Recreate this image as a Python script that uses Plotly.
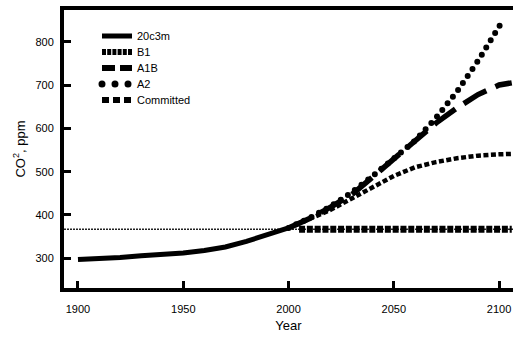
import plotly.graph_objects as go

# ---- data ----
years_hist = [1900, 1910, 1920, 1930, 1940, 1950, 1960, 1970, 1980, 1990, 2000]
co2_20c3m = [297, 299, 302, 306, 309, 312, 318, 326, 339, 354, 370]

years_scen = [2000, 2010, 2020, 2030, 2040, 2050, 2060, 2070, 2080, 2090, 2100, 2106]
co2_b1 = [370, 390, 412, 438, 465, 490, 510, 522, 531, 537, 540, 541]
co2_a1b = [370, 392, 418, 447, 488, 530, 572, 612, 647, 678, 700, 705]

years_a2 = [2000, 2010, 2020, 2030, 2040, 2050, 2060, 2070, 2080, 2090, 2100, 2101]
co2_a2 = [370, 393, 420, 452, 490, 530, 571, 624, 685, 756, 833, 843]

years_committed = [2005, 2106]
co2_committed = [367, 367]

reference_level = 367

x_ticks = [1900, 1950, 2000, 2050, 2100]
y_ticks = [300, 400, 500, 600, 700, 800]

series_names = ["20c3m", "B1", "A1B", "A2", "Committed"]

FONT = "Arial, Liberation Sans, sans-serif"

# plot-area geometry (pixels)
W, H = 513, 344
ML, MR, MT, MB = 64, 0, 10, 56
plot_h = H - MT - MB

fig = go.Figure()
fig.add_hline(y=reference_level, line=dict(color="#222", width=1.5, dash="2px,1px"), layer="below")

legend_ids = ["legend", "legend2", "legend3", "legend4", "legend5"]

fig.add_trace(go.Scatter(x=years_hist, y=co2_20c3m, name=series_names[0], mode="lines", uid="c20",
                         legend=legend_ids[0], line=dict(color="black", width=5)))
fig.add_trace(go.Scatter(x=years_scen, y=co2_b1, name=series_names[1], mode="lines", uid="b1",
                         legend=legend_ids[1], line=dict(color="black", width=4.5, dash="5px,2.5px")))
fig.add_trace(go.Scatter(x=years_scen, y=co2_a1b, name=series_names[2], mode="lines", uid="a1b",
                         legend=legend_ids[2], line=dict(color="black", width=5.5, dash="26px,10px")))
fig.add_trace(go.Scatter(x=years_a2, y=co2_a2, name=series_names[3], mode="lines", uid="a2",
                         legend=legend_ids[3], line=dict(color="black", width=6, dash="0px,8.5px")))
fig.add_trace(go.Scatter(x=years_committed, y=co2_committed, name=series_names[4], mode="lines", uid="cm",
                         legend=legend_ids[4], line=dict(color="black", width=7, dash="6px,1.8px")))

# one legend per entry so the entries can sit 16 px apart like the reference
legend_centers_px = [36, 52, 68, 84, 100]
legend_x = (97 - ML) / (W - ML - MR)
legend_layout = {}
for lid, cy in zip(legend_ids, legend_centers_px):
    legend_layout[lid] = dict(x=legend_x, y=(H - MB - cy) / plot_h, xanchor="left", yanchor="middle",
                              bgcolor="rgba(0,0,0,0)", font=dict(size=11, family=FONT), borderwidth=0)

fig.update_layout(
    width=W, height=H,
    margin=dict(l=ML, r=MR, t=MT, b=MB, autoexpand=False),
    paper_bgcolor="white", plot_bgcolor="white",
    font=dict(family=FONT, size=11, color="black"),
    showlegend=True,
    **legend_layout,
)
fig.update_xaxes(range=[1893.36, 2106.6], tickvals=x_ticks, ticks="inside", ticklen=7, tickwidth=3,
                 tickcolor="black", showline=True, linewidth=4, linecolor="black", mirror=True,
                 showgrid=False, zeroline=False, automargin=False, ticklabelstandoff=8,
                 title=dict(text="Year", font=dict(size=13), standoff=8),
                 tickfont=dict(size=11))
fig.update_yaxes(range=[231.4, 873.2], tickvals=y_ticks, ticks="inside", ticklen=7, tickwidth=3,
                 tickcolor="black", showline=True, linewidth=4, linecolor="black",
                 showgrid=False, zeroline=False, automargin=False, ticklabelstandoff=4,
                 title=dict(text="CO<sup>2</sup>, ppm", font=dict(size=13), standoff=8),
                 tickfont=dict(size=11))

post = """
var gd = document.getElementById('{plot_id}');
var st = document.createElement('style');
st.textContent = 'html,body{margin:0;padding:0;overflow:hidden} .tracea2 path.js-line{stroke-linecap:round}';
document.head.appendChild(st);
function fixLegend(){
  var m = {b1:'4px,1.2px', a1b:'13px,5px', a2:'0px,13px', cm:'7px,4px'};
  gd.querySelectorAll('g.traces').forEach(function(g){
    var d = g.__data__; var t = null;
    try { t = d[0].trace || d[0][0].trace; } catch(e) {}
    if(!t) return;
    var p = g.querySelector('path.js-line');
    if(!p || !m[t.uid]) return;
    p.style.setProperty('stroke-dasharray', m[t.uid], 'important');
    p.style.setProperty('stroke-width', '6px', 'important');
    if(t.uid === 'a2') { p.style.setProperty('stroke-linecap', 'round'); p.style.setProperty('stroke-width', '7px', 'important'); }
  });
}
fixLegend();
gd.on('plotly_afterplot', fixLegend);
"""

fig.write_html("out.html", post_script=post, config={"displayModeBar": False})
